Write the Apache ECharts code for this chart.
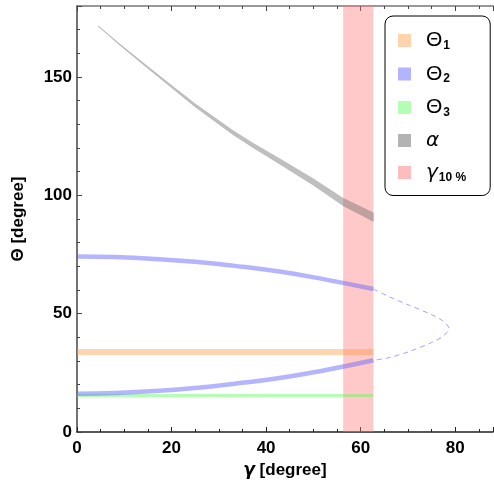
<!DOCTYPE html>
<html>
<head>
<meta charset="utf-8">
<script src="https://cdn.jsdelivr.net/npm/echarts@6/dist/echarts.min.js"></script>
<style>
 html,body{margin:0;padding:0;background:#fff;}
 #chart{width:494px;height:485px;}
</style>
</head>
<body>
<div id="chart"></div>
<script>
// alpha band (grey)
var alphaGamma  = [4.5, 9, 15, 20, 25, 33, 37, 43, 50, 56.3, 62.7];
var alphaCenter = [171.5, 163.8, 154.0, 146.0, 138.0, 126.5, 121.4, 114.2, 105.6, 97.2, 90.8];
var alphaWidth  = [0.3, 0.5, 0.8, 1.0, 1.3, 1.7, 1.95, 2.3, 2.75, 3.2, 3.7];

// Theta2 (blue), solid part
var theta2Gamma = [0, 8, 16.5, 25, 33, 42.5, 52.4, 62.7];
var theta2Upper = [74.2, 73.9, 73.1, 71.9, 70.3, 67.9, 64.5, 60.4];
var theta2Lower = [16.2, 16.5, 17.3, 18.6, 20.3, 22.7, 26.1, 30.3];

// Theta2 dashed continuation
var theta2DashGamma = [62.7, 66, 70, 75, 77.4, 78.7, 77.4, 75, 70, 66, 62.7];
var theta2DashValue = [60.4, 57.2, 53.8, 49.6, 46.9, 43.7, 40.4, 37.8, 33.8, 31.4, 30.3];

// Theta1, Theta3 (constant)
var flatGamma = [0, 62.7];
var theta1 = [33.8, 33.8];
var theta3 = [15.4, 15.4];

// gamma 10% band
var gammaBand = [56.3, 62.7];

var xTicks = {min: 0, max: 88, interval: 20};
var yTicks = {min: 0, max: 180, interval: 50};

function pairs(xs, ys){
	var out = [];
	for (var i = 0; i < xs.length; i++) out.push([xs[i], ys[i]]);
	return out;
}

var font = 'Liberation Sans, Arial, sans-serif';

var myChart = echarts.init(document.getElementById('chart'));

var labels = {
	'Θ1': '{t|Θ}{s|1}',
	'Θ2': '{t|Θ}{s|2}',
	'Θ3': '{t|Θ}{s|3}',
	'α': '{i|α}',
	'γ10%': '{i|γ}{s|10 %}'
};

// polygon of the alpha band: upper edge forward, lower edge back
function renderAlpha(params, api){
	if (params.dataIndex !== 0) return null;
	var pts = [];
	var i;
	for (i = 0; i < alphaGamma.length; i++)
		pts.push(api.coord([alphaGamma[i], alphaCenter[i] + alphaWidth[i] / 2]));
	for (i = alphaGamma.length - 1; i >= 0; i--)
		pts.push(api.coord([alphaGamma[i], alphaCenter[i] - alphaWidth[i] / 2]));
	return {
		type: 'polygon',
		shape: {points: pts},
		style: {fill: 'rgba(110,110,110,0.44)', stroke: 'rgba(110,110,110,0.3)', lineWidth: 0.6}
	};
}

var option = {
	animation: false,
	grid: {left: 77, top: 6, right: 1, bottom: 53},
	legend: {
		orient: 'vertical',
		left: 385, top: 16,
		padding: [14, 24, 12, 13],
		itemGap: 12,
		itemWidth: 13, itemHeight: 13,
		icon: 'rect',
		borderColor: '#000', borderWidth: 1, borderRadius: 8,
		backgroundColor: '#fff',
		data: [
			{name: 'Θ1', itemStyle: {color: '#ffd4ad'}},
			{name: 'Θ2', itemStyle: {color: '#b3b3ff'}},
			{name: 'Θ3', itemStyle: {color: '#b3ffb3'}},
			{name: 'α', itemStyle: {color: '#b3b3b3'}},
			{name: 'γ10%', itemStyle: {color: '#ffbcbc'}}
		],
		formatter: function(name){ return labels[name]; },
		textStyle: {
			padding: [0, 0, 0, 10],
			rich: {
				t: {fontSize: 21, fontFamily: font, color: '#000', lineHeight: 22},
				i: {fontSize: 20, fontFamily: 'DejaVu Sans, sans-serif', fontStyle: 'italic', color: '#000', lineHeight: 22},
				s: {fontSize: 12, fontFamily: font, fontWeight: 'bold', color: '#000', lineHeight: 22, verticalAlign: 'bottom', padding: [8, 0, 0, 1]}
			}
		}
	},
	xAxis: [{
		type: 'value', min: xTicks.min, max: xTicks.max, interval: xTicks.interval,
		name: '{i|γ} [degree]', nameLocation: 'middle', nameGap: 25,
		nameTextStyle: {fontSize: 17, fontWeight: 'bold', fontFamily: font, color: '#000',
			rich: {i: {fontSize: 17, fontStyle: 'italic', fontFamily: 'DejaVu Sans, sans-serif', color: '#000'}}},
		axisLine: {lineStyle: {color: '#222', width: 1.5}},
		axisTick: {inside: true, length: 5, lineStyle: {color: '#222'}},
		minorTick: {show: true, splitNumber: 4, length: 3, lineStyle: {color: '#222'}},
		axisLabel: {fontSize: 17, fontWeight: 'bold', fontFamily: font, color: '#000', margin: 8, showMaxLabel: false},
		splitLine: {show: false}
	}, {
		type: 'value', position: 'top', min: xTicks.min, max: xTicks.max, interval: xTicks.interval,
		axisLine: {lineStyle: {color: '#777', width: 1.5}},
		axisTick: {inside: true, length: 5, lineStyle: {color: '#444'}},
		minorTick: {show: true, splitNumber: 4, length: 3, lineStyle: {color: '#444'}},
		axisLabel: {show: false},
		splitLine: {show: false}
	}],
	yAxis: {
		type: 'value', min: yTicks.min, max: yTicks.max, interval: yTicks.interval,
		name: 'Θ [degree]', nameLocation: 'middle', nameGap: 50,
		nameTextStyle: {fontSize: 17, fontWeight: 'bold', fontFamily: font, color: '#000'},
		axisLine: {show: true, lineStyle: {color: '#444', width: 1.5}},
		axisTick: {show: true, inside: true, length: 5, lineStyle: {color: '#444'}},
		minorTick: {show: true, splitNumber: 5, length: 3, lineStyle: {color: '#444'}},
		axisLabel: {fontSize: 17, fontWeight: 'bold', fontFamily: font, color: '#000', margin: 5, showMaxLabel: false},
		splitLine: {show: false}
	},
	series: [{
		name: 'γ10%', type: 'line', z: 1,
		data: [[gammaBand[0], 0]], symbol: 'none', lineStyle: {opacity: 0},
		markArea: {
			silent: true,
			itemStyle: {color: 'rgba(255,120,120,0.4)'},
			data: [[{xAxis: gammaBand[0]}, {xAxis: gammaBand[1]}]]
		}
	}, {
		name: 'α', type: 'custom', z: 2,
		renderItem: renderAlpha,
		itemStyle: {color: '#b3b3b3'},
		data: pairs(alphaGamma, alphaCenter)
	}, {
		name: 'Θ1', type: 'line', z: 3,
		data: pairs(flatGamma, theta1), symbol: 'none',
		itemStyle: {color: '#ffd4ad'},
		lineStyle: {width: 6, color: 'rgba(255,150,60,0.4)'}
	}, {
		name: 'Θ3', type: 'line', z: 3,
		data: pairs(flatGamma, theta3), symbol: 'none',
		itemStyle: {color: '#b3ffb3'},
		lineStyle: {width: 3, color: 'rgba(90,255,90,0.45)'}
	}, {
		name: 'Θ2', type: 'line', z: 3,
		data: pairs(theta2Gamma, theta2Upper), symbol: 'none', smooth: true,
		itemStyle: {color: '#b3b3ff'},
		lineStyle: {width: 4.5, color: 'rgba(100,100,255,0.48)'}
	}, {
		name: 'Θ2', type: 'line', z: 3,
		data: pairs(theta2Gamma, theta2Lower), symbol: 'none', smooth: true,
		itemStyle: {color: '#b3b3ff'},
		lineStyle: {width: 4.5, color: 'rgba(100,100,255,0.48)'}
	}, {
		name: 'Θ2', type: 'line', z: 3,
		data: pairs(theta2DashGamma, theta2DashValue), symbol: 'none', smooth: 0.3,
		itemStyle: {color: '#b3b3ff'},
		lineStyle: {width: 1, type: [5, 4], color: 'rgba(100,100,255,0.6)'}
	}]
};

myChart.setOption(option);
</script>
</body>
</html>
